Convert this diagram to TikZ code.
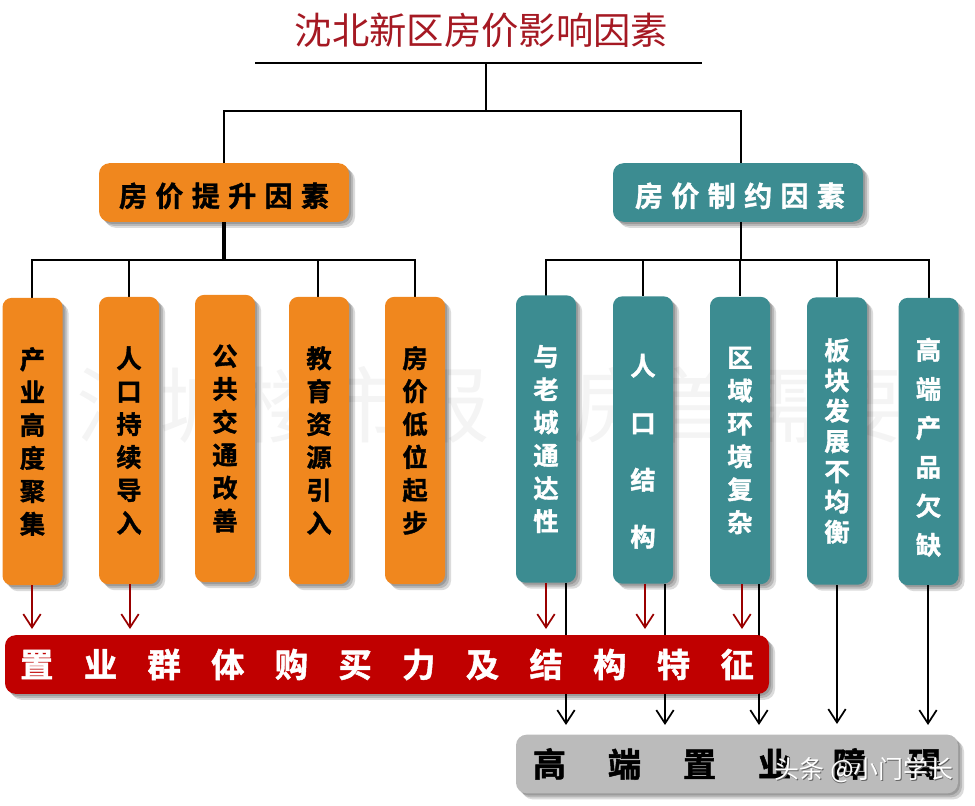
\documentclass[tikz,border=0pt]{standalone}
\usepackage{fontspec}
\usetikzlibrary{arrows.meta,shadows}
\setmainfont{Noto Sans CJK SC}[BoldFont={Noto Sans CJK SC Bold},BoldFeatures={FakeBold=1.4}]
\definecolor{boxorange}{RGB}{240,135,30}
\definecolor{boxteal}{RGB}{60,140,145}
\definecolor{boxred}{RGB}{192,0,0}
\definecolor{boxgrey}{RGB}{187,187,187}
\definecolor{titlered}{RGB}{165,25,35}
\definecolor{markgrey}{RGB}{244,244,244}
\tikzset{
  softshadow/.style={
    general shadow={shadow xshift=1.5pt,shadow yshift=-1.5pt,fill=black,opacity=.16},
    general shadow={shadow xshift=3pt,shadow yshift=-3pt,fill=black,opacity=.16},
    general shadow={shadow xshift=4.5pt,shadow yshift=-4.5pt,fill=black,opacity=.14}},
  headbox/.style={rectangle,rounded corners=8pt,minimum width=187.5pt,minimum height=44pt,font=\bfseries\fontsize{21}{21}\selectfont,softshadow},
  tallbox/.style={rectangle,rounded corners=7pt,minimum width=45pt,minimum height=215.5pt,align=center,font=\bfseries\fontsize{19}{24.7}\selectfont,softshadow},
  linebox/.style={rectangle,rounded corners=8pt,minimum height=44pt,font=\bfseries\fontsize{25}{25}\selectfont,softshadow},
  trunk/.style={black,line width=1.9pt},
  blackarrow/.style={black,line width=1.3pt,-{Straight Barb[length=10pt,width=13pt,line width=1.3pt]}},
  redarrow/.style={red!60!black,line width=1.3pt,-{Straight Barb[length=10pt,width=13pt,line width=1.3pt]}}
}
\begin{document}
\begin{tikzpicture}[x=0.75pt,y=-0.75pt]
  \useasboundingbox (0,0) rectangle (975,806);
  % faint mark behind the boxes
  \node[text=markgrey,font=\fontsize{62}{62}\selectfont,inner sep=0pt] (mark) at (490,405) {沈城楼市报\hspace{1em}房首需要};
  % title
  \node[text=titlered,font=\fontsize{28}{28}\selectfont,inner sep=0pt] (title) at (481.5,30) {沈北新区房价影响因素};
  \coordinate (ruleleft) at (255,63);
  \coordinate (ruleright) at (702,63);
  \coordinate (rulemid) at (486,63);
  \coordinate (forkmid) at (486,111);
  \coordinate (forkleft) at (224,111);
  \coordinate (forkright) at (741,111);
  % connectors go under the boxes
  \coordinate (upbus) at (224,260);
  \coordinate (upa) at (32,260);
  \coordinate (upe) at (415,260);
  \coordinate (downbus) at (741,260);
  \coordinate (downa) at (546,260);
  \coordinate (downe) at (929,260);
  \draw[trunk,line width=2.2pt] (ruleleft) -- (ruleright);
  \draw[trunk] (rulemid) -- (forkmid);
  \draw[trunk] (forkleft |- 0,164) -- (forkleft) -- (forkright) -- (forkright |- 0,164);
  \draw[trunk] (upa |- 0,298) -- (upa) -- (upe) -- (upe |- 0,298);
  \draw[trunk] (downa |- 0,296) -- (downa) -- (downe) -- (downe |- 0,298);
  \draw[trunk] (129,260) -- (129,297);
  \draw[trunk] (318,260) -- (318,297);
  \draw[trunk] (643,260) -- (643,296);
  \draw[trunk] (740,260) -- (740,296);
  \draw[trunk] (837,260) -- (837,297);
  % orange side
  \node[headbox,fill=boxorange] (uphead) at (224,192.5) {\rule{0pt}{23pt}房\hspace{.3em}价\hspace{.3em}提\hspace{.3em}升\hspace{.3em}因\hspace{.3em}素};
  \node[tallbox,fill=boxorange] (upa1) at (32.5,441.5) {产\\业\\高\\度\\聚\\集};
  \node[tallbox,fill=boxorange] (upa2) at (129,440.5) {人\\口\\持\\续\\导\\入};
  \node[tallbox,fill=boxorange] (upa3) at (225,438.5) {公\\共\\交\\通\\改\\善};
  \node[tallbox,fill=boxorange] (upa4) at (319,440.5) {教\\育\\资\\源\\引\\入};
  \node[tallbox,fill=boxorange] (upa5) at (415,440.5) {房\\价\\低\\位\\起\\步};
  % teal side
  \node[headbox,fill=boxteal,text=white] (downhead) at (738,192.5) {\hspace{3pt}\rule{0pt}{23pt}房\hspace{.3em}价\hspace{.3em}制\hspace{.3em}约\hspace{.3em}因\hspace{.3em}素};
  \node[tallbox,fill=boxteal,text=white] (downa1) at (546,439) {与\\老\\城\\通\\达\\性};
  \node[tallbox,fill=boxteal,text=white,font=\bfseries\fontsize{19}{42.75}\selectfont] (downa2) at (643,440) {\rule{0pt}{33pt}人\\口\\结\\构};
  \node[tallbox,fill=boxteal,text=white] (downa3) at (740,440.5) {区\\域\\环\\境\\复\\杂};
  \node[tallbox,fill=boxteal,text=white,font=\bfseries\fontsize{19}{22.7}\selectfont] (downa4) at (837,441) {板\\块\\发\\展\\不\\均\\衡};
  \node[tallbox,fill=boxteal,text=white,font=\bfseries\fontsize{19}{29.25}\selectfont] (downa5) at (928.5,441.5) {\rule{0pt}{25pt}高\\端\\产\\品\\欠\\缺};
  \draw[trunk,line width=2.5pt] (uphead.south) -- (upbus);
  \draw[trunk] (downhead.south -| downbus) -- (downbus);
  % black arrows pass behind the red bar
  \coordinate (enda) at (566,725);
  \coordinate (endb) at (665,725);
  \coordinate (endc) at (759,725);
  \coordinate (endd) at (837,724);
  \coordinate (ende) at (928,725);
  \draw[blackarrow] (downa1.south -| enda) -- (enda);
  \draw[blackarrow] (downa2.south -| endb) -- (endb);
  \draw[blackarrow] (downa3.south -| endc) -- (endc);
  \draw[blackarrow] (downa4.south -| endd) -- (endd);
  \draw[blackarrow] (downa5.south -| ende) -- (ende);
  % bottom bars
  \node[linebox,fill=boxred,text=white,minimum width=573pt] (redbar) at (387,664.5) {置\hspace{.91em}业\hspace{.91em}群\hspace{.91em}体\hspace{.91em}购\hspace{.91em}买\hspace{.91em}力\hspace{.91em}及\hspace{.91em}结\hspace{.91em}构\hspace{.91em}特\hspace{.91em}征};
  \node[linebox,fill=boxgrey,minimum width=331.5pt] (greybar) at (737,764) {高\hspace{1.25em}端\hspace{1.25em}置\hspace{1.25em}业\hspace{1.25em}障\hspace{1.25em}碍};
  % red arrows
  \coordinate (reda) at (32,629);
  \coordinate (redb) at (130,629);
  \coordinate (redc) at (546,629);
  \coordinate (redd) at (645,629);
  \coordinate (rede) at (742,629);
  \draw[redarrow] (upa1.south -| reda) -- (reda);
  \draw[redarrow] (upa2.south -| redb) -- (redb);
  \draw[redarrow] (downa1.south -| redc) -- (redc);
  \draw[redarrow] (downa2.south -| redd) -- (redd);
  \draw[redarrow] (downa3.south -| rede) -- (rede);
  % corner mark
  \node[text=black!60,font=\fontsize{18.7}{18.7}\selectfont,inner sep=0pt] (credshade) at (864.7,770.7) {头条 @小门学长};
  \node[text=white,font=\fontsize{18.7}{18.7}\selectfont,inner sep=0pt] (cred) at (864,770) {头条 @小门学长};
\end{tikzpicture}
\end{document}
